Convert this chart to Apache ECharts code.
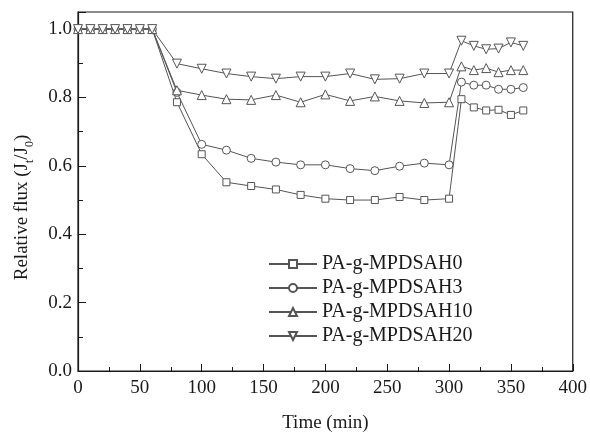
<!DOCTYPE html>
<html>
<head>
<meta charset="utf-8">
<script src="https://cdn.jsdelivr.net/npm/echarts@6/dist/echarts.min.js"></script>
<style>
  html, body { margin: 0; padding: 0; background: #fff; }
  #chart { width: 590px; height: 438px; }
</style>
</head>
<body>
<div id="chart"></div>
<script>
// time points (min)
var times = [0, 10, 20, 30, 40, 50, 60, 80, 100, 120, 140, 160, 180, 200, 220, 240, 260, 280, 300, 310, 320, 330, 340, 350, 360];
var seriesNames = ['PA-g-MPDSAH0', 'PA-g-MPDSAH3', 'PA-g-MPDSAH10', 'PA-g-MPDSAH20'];
var fluxH0 = [1, 1, 1, 1, 1, 1, 1, 0.786, 0.634, 0.552, 0.541, 0.531, 0.515, 0.504, 0.500, 0.500, 0.509, 0.500, 0.504, 0.795, 0.771, 0.762, 0.764, 0.749, 0.762];
var fluxH3 = [1, 1, 1, 1, 1, 1, 1, 0.815, 0.663, 0.646, 0.622, 0.611, 0.603, 0.603, 0.592, 0.586, 0.599, 0.608, 0.603, 0.845, 0.836, 0.836, 0.824, 0.824, 0.829];
var fluxH10 = [1, 1, 1, 1, 1, 1, 1, 0.821, 0.807, 0.795, 0.793, 0.807, 0.786, 0.809, 0.790, 0.803, 0.790, 0.784, 0.786, 0.891, 0.880, 0.886, 0.874, 0.880, 0.880];
var fluxH20 = [1, 1, 1, 1, 1, 1, 1, 0.899, 0.884, 0.870, 0.861, 0.855, 0.861, 0.861, 0.870, 0.853, 0.855, 0.870, 0.870, 0.966, 0.951, 0.941, 0.943, 0.961, 0.951];

var FONT = '"Liberation Serif", "DejaVu Serif", serif';
var INK = '#1a1a1a';
var LINE = '#555';

function pairs(vals) {
    return times.map(function (t, i) { return [t, vals[i]]; });
}

function makeSeries(name, vals, symbol, size) {
    return {
        name: name,
        type: 'line',
        data: pairs(vals),
        symbol: symbol,
        symbolSize: size,
        showAllSymbol: true,
        lineStyle: { color: LINE, width: 1 },
        itemStyle: { color: '#fff', borderColor: LINE, borderWidth: 1 },
        emphasis: { disabled: true },
        animation: false
    };
}

var myChart = echarts.init(document.getElementById('chart'));

var option = {
    backgroundColor: '#fff',
    grid: { left: 78, right: 16, top: 12, bottom: 62, show: true, borderColor: INK, borderWidth: 1.2 },
    legend: {
        orient: 'vertical',
        left: 263,
        top: 249,
        itemWidth: 48,
        itemHeight: 10,
        itemGap: 4,
        data: seriesNames,
        textStyle: { fontFamily: FONT, fontSize: 20, color: INK, lineHeight: 20 }
    },
    xAxis: {
        type: 'value',
        min: 0,
        max: 400,
        interval: 50,
        name: 'Time (min)',
        nameLocation: 'middle',
        nameGap: 43,
        nameTextStyle: { fontFamily: FONT, fontSize: 19, color: INK },
        axisLine: { lineStyle: { color: INK, width: 1.2 } },
        axisTick: { inside: true, length: 7, lineStyle: { color: INK } },
        minorTick: { show: true, splitNumber: 2, length: 4, lineStyle: { color: INK } },
        axisLabel: { fontFamily: FONT, fontSize: 19, color: INK, margin: 8 },
        splitLine: { show: false }
    },
    yAxis: {
        type: 'value',
        min: 0,
        max: 1.05,
        interval: 0.2,
        name: '{a|Relative flux (J}{s|t}{a|/J}{s|0}{a|)}',
        nameLocation: 'middle',
        nameGap: 46,
        nameTextStyle: {
            padding: [0, 32, 0, 0],
            rich: {
                a: { fontFamily: FONT, fontSize: 19, color: INK, lineHeight: 22, verticalAlign: 'bottom' },
                s: { fontFamily: FONT, fontSize: 12, color: INK, lineHeight: 14, verticalAlign: 'bottom', padding: [0, 0, -4, 0] }
            }
        },
        axisLine: { lineStyle: { color: INK, width: 1.2 } },
        axisTick: { inside: true, length: 8, lineStyle: { color: INK } },
        minorTick: { show: true, splitNumber: 2, length: 5, lineStyle: { color: INK } },
        axisLabel: {
            fontFamily: FONT, fontSize: 19, color: INK, margin: 6, showMaxLabel: false,
            formatter: function (v) { return v.toFixed(1); }
        },
        splitLine: { show: false }
    },
    series: [
        makeSeries(seriesNames[0], fluxH0, 'rect', 7),
        makeSeries(seriesNames[1], fluxH3, 'circle', 8),
        makeSeries(seriesNames[2], fluxH10, 'triangle', 9),
        makeSeries(seriesNames[3], fluxH20, 'path://M0,0 L10,0 L5,9 Z', 9)
    ]
};

myChart.setOption(option);
</script>
</body>
</html>
